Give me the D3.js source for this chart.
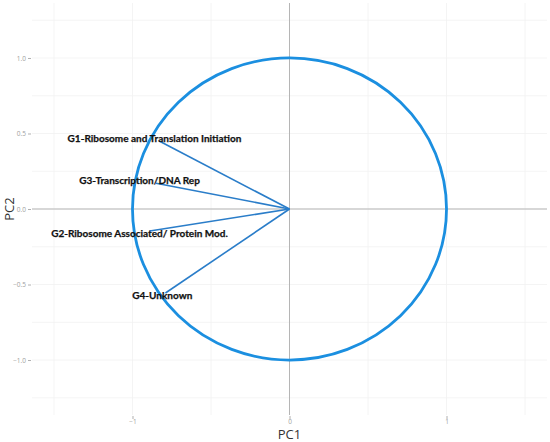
<!DOCTYPE html>
<meta charset="utf-8">
<script src="https://cdn.jsdelivr.net/npm/d3@7"></script>
<style>
body { margin: 0; background: #fff; }
.grid line { stroke: #f1f1f1; stroke-width: 0.8px; }
.zero { stroke: #b5b5b5; stroke-width: 1px; }
.tick text { font: 6.5px "Open Sans", sans-serif; fill: #a0a0a0; }
.tick line { stroke: #b0b0b0; }
.lab { font: 700 10px Lato, sans-serif; fill: #111; stroke: #111; stroke-width: 0.25px; }
.axtitle { font: 13px "Open Sans", sans-serif; fill: #333; }
</style>
<svg width="550" height="442"></svg>
<script>

// loadings of each gene group on PC1 / PC2
var groups = ["G1-Ribosome and Translation Initiation", "G3-Transcription/DNA Rep",
              "G2-Ribosome Associated/ Protein Mod.", "G4-Unknown"];
var pc1 = [-0.83, -0.85, -0.89, -0.79];
var pc2 = [0.45, 0.17, -0.146, -0.556];
// where each label sits (data units)
var labelX = [-0.86, -0.955, -0.955, -0.81];
var labelY = [0.47, 0.19, -0.16, -0.57];

var xTicks = [-1, 0, 1];
var yTicks = [-1, -0.5, 0, 0.5, 1];
var xGrid = [-1.5, -1, -0.5, 0, 0.5, 1, 1.5];
var yGrid = [-1.25, -1, -0.75, -0.5, -0.25, 0, 0.25, 0.5, 0.75, 1, 1.25];

var svg = d3.select("svg");
var pLeft = 32, pRight = 547, pTop = 3, pBottom = 415;

var x = d3.scaleLinear().domain([-1.64, 1.64]).range([pLeft, pRight]);
var y = d3.scaleLinear().domain([-1.364, 1.364]).range([pBottom, pTop]);

var grid = svg.append("g").attr("class", "grid");
grid.selectAll(".gx").data(xGrid).enter().append("line")
    .attr("x1", x).attr("x2", x).attr("y1", pTop).attr("y2", pBottom);
grid.selectAll(".gy").data(yGrid).enter().append("line")
    .attr("y1", y).attr("y2", y).attr("x1", pLeft).attr("x2", pRight);

// zero lines
svg.append("line").attr("class", "zero")
    .attr("x1", x(0)).attr("x2", x(0)).attr("y1", pTop).attr("y2", pBottom);
svg.append("line").attr("class", "zero")
    .attr("x1", pLeft).attr("x2", pRight).attr("y1", y(0)).attr("y2", y(0));

// axes
var xAxis = svg.append("g").attr("transform", "translate(0," + (pBottom + 1) + ")")
    .call(d3.axisBottom(x).tickValues(xTicks).tickSize(3).tickPadding(0).tickFormat(d3.format("d")));
xAxis.select(".domain").remove();

var yAxis = svg.append("g").attr("transform", "translate(" + (pLeft - 1) + ",0)")
    .call(d3.axisLeft(y).tickValues(yTicks).tickSize(3).tickPadding(2).tickFormat(d3.format(".1f")));
yAxis.select(".domain").remove();

// unit circle
svg.append("ellipse")
    .attr("cx", x(0)).attr("cy", y(0))
    .attr("rx", x(1) - x(0)).attr("ry", y(0) - y(1))
    .attr("fill", "none").attr("stroke", "#1b8fe0").attr("stroke-width", 2.8);

// loading vectors
var idx = d3.range(groups.length);
svg.selectAll(".vec").data(idx).enter().append("line")
    .attr("x1", x(0)).attr("y1", y(0))
    .attr("x2", function(i) { return x(pc1[i]); })
    .attr("y2", function(i) { return y(pc2[i]); })
    .attr("stroke", "#2a7dc9").attr("stroke-width", 1.6);

svg.selectAll(".lab").data(idx).enter().append("text")
    .attr("class", "lab")
    .attr("x", function(i) { return x(labelX[i]); })
    .attr("y", function(i) { return y(labelY[i]); })
    .attr("text-anchor", "middle").attr("dy", "0.35em")
    .text(function(i) { return groups[i]; });

svg.append("text").attr("class", "axtitle")
    .attr("x", x(0)).attr("y", 439).attr("text-anchor", "middle").text("PC1");
svg.append("text").attr("class", "axtitle")
    .attr("transform", "translate(14," + y(0) + ") rotate(-90)")
    .attr("text-anchor", "middle").text("PC2");

</script>
